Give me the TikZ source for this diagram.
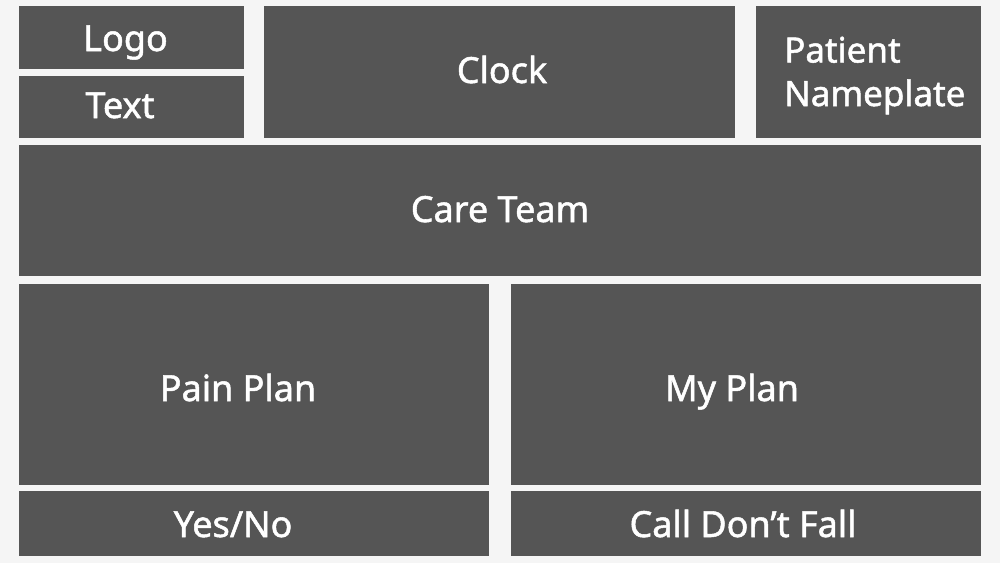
\documentclass[tikz,border=0pt]{standalone}
\usepackage{fontspec}
\setmainfont{Noto Sans}
\newfontfamily\medfont{Noto Sans}[FakeBold=1.4]
\definecolor{bg}{HTML}{F5F5F5}
\definecolor{panel}{HTML}{555555}
\tikzset{
  panelbox/.style={fill=panel, draw=none},
  lbl/.style={text=white, font=\medfont\fontsize{36}{44}\selectfont, anchor=base, inner sep=0pt},
  smalllbl/.style={lbl, font=\medfont\fontsize{35}{42}\selectfont, anchor=base west}
}
\begin{document}
\begin{tikzpicture}[x=1pt,y=-1pt]
\fill[bg] (0,0) rectangle (1000,563);
\useasboundingbox (0,0) rectangle (1000,563);
\fill[panelbox] (19,6) rectangle (244,69);
\node[lbl] (logo) at (125.5,51) {Logo};
\fill[panelbox] (19,76) rectangle (244,138);
\node[lbl] (text) at (120,118) {Text};
\fill[panelbox] (264,6) rectangle (735,138);
\node[lbl] (clock) at (502,83) {Clock};
\fill[panelbox] (756,6) rectangle (981,138);
\node[smalllbl] (patient) at (784,62.5) {Patient};
\node[smalllbl] (nameplate) at (784,106) {Nameplate};
\fill[panelbox] (19,145) rectangle (981,276);
\node[lbl] (care) at (500,222) {Care Team};
\fill[panelbox] (19,284) rectangle (489,485);
\node[lbl] (pain) at (238,401) {Pain Plan};
\fill[panelbox] (511,284) rectangle (981,485);
\node[lbl] (myplan) at (732,401) {My Plan};
\fill[panelbox] (19,491) rectangle (489,556);
\node[lbl] (yesno) at (233,537) {Yes/No};
\fill[panelbox] (511,491) rectangle (981,556);
\node[lbl] (call) at (743,537) {Call Don’t Fall};
\end{tikzpicture}
\end{document}
